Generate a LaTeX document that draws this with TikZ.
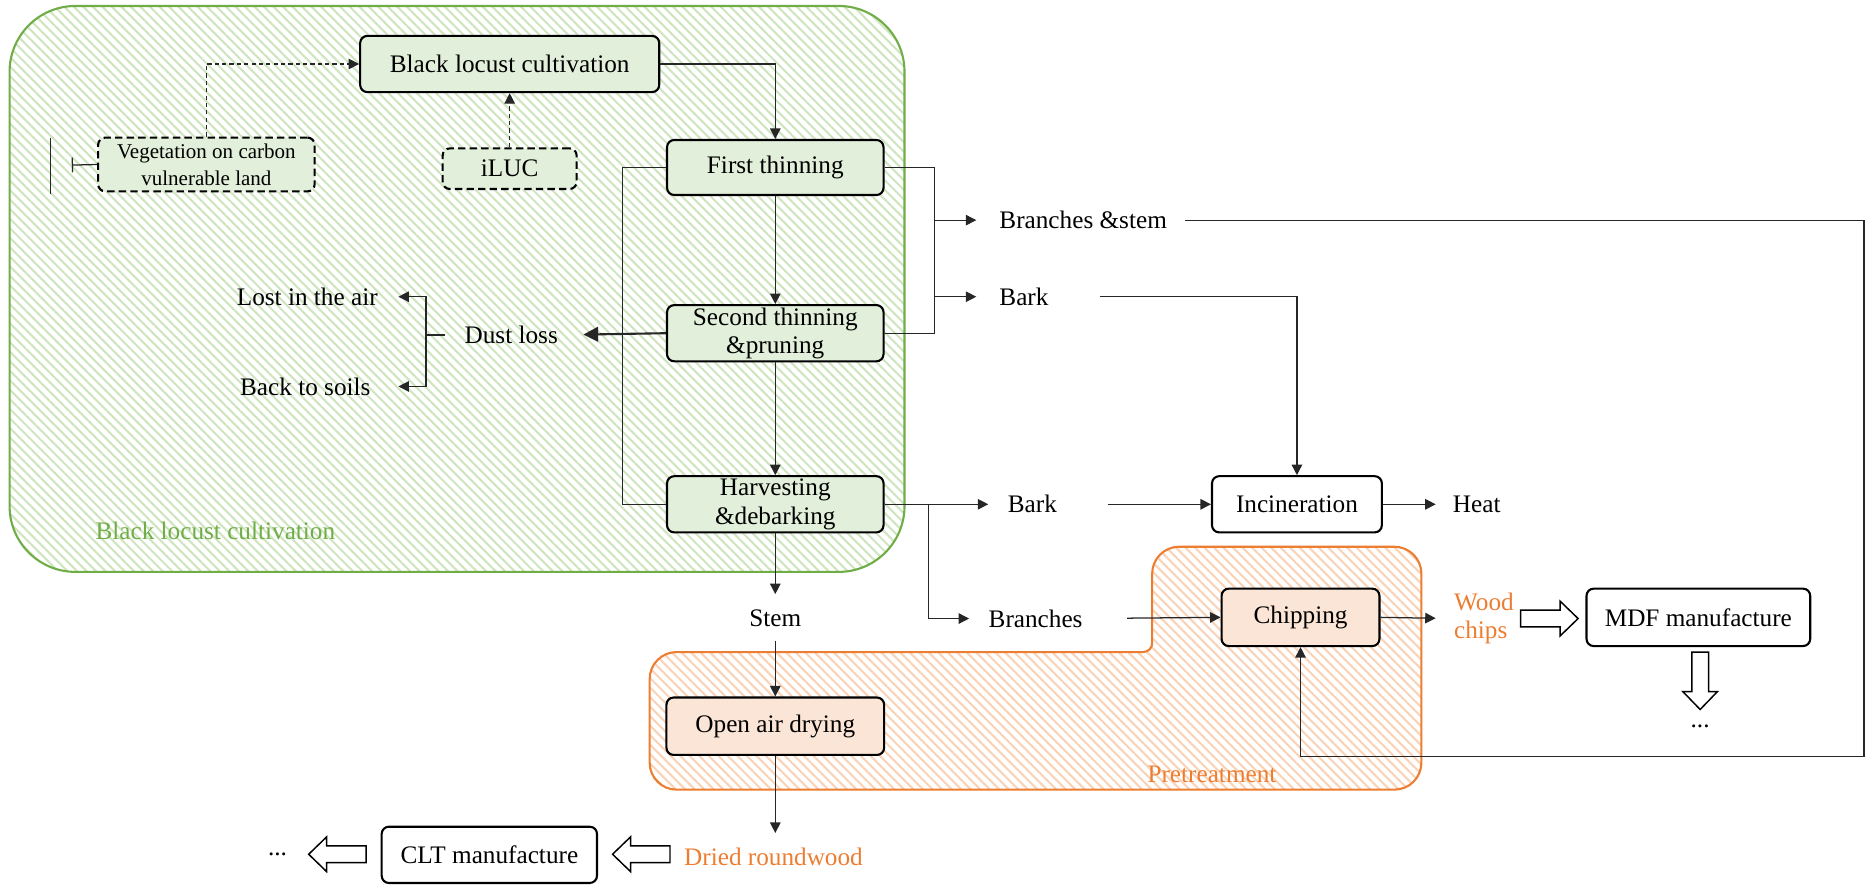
\documentclass[tikz,border=0pt]{standalone}
\usepackage{fontspec}
\setmainfont{Liberation Serif}
\usetikzlibrary{arrows.meta,patterns.meta}
\definecolor{gfill}{HTML}{E2EFDA}
\definecolor{ofill}{HTML}{FBE5D6}
\definecolor{gline}{HTML}{70AD47}
\definecolor{oline}{HTML}{ED7D31}
\definecolor{ghatch}{HTML}{CFE5C0}
\definecolor{ohatch}{HTML}{F9D3B8}
\begin{document}
\begin{tikzpicture}[x=0.02cm,y=-0.02cm,
  every node/.style={font=\fontsize{12}{13.5}\selectfont},
  box/.style={draw=black, line width=1pt, rounded corners=0.12cm, align=center, inner sep=0pt},
  gbox/.style={box, fill=gfill},
  obox/.style={box, fill=ofill},
  wbox/.style={box, fill=white},
  dbox/.style={box, fill=gfill, dash pattern=on 3.5pt off 2pt},
  lbl/.style={inner sep=0pt},
  con/.style={line width=0.6pt, draw=black!85},
  arr/.style={con, -{Triangle[length=5pt,width=5pt]}},
  region/.style={line width=1pt, rounded corners=1.1cm},
  pics/barrow/.style={code={
    \draw[line width=0.7pt, fill=white] (-24,-7) -- (9,-7) -- (9,-14.5) -- (24,0) -- (9,14.5) -- (9,7) -- (-24,7) -- cycle;}}
]
\useasboundingbox (0,0) rectangle (1568,739);

% regions
\draw[region, draw=gline, pattern={Lines[angle=-45,distance=3.2pt,line width=1pt]}, pattern color=ghatch]
  (8,5) rectangle (756,478);
\draw[line width=1pt, draw=oline, pattern={Lines[angle=-45,distance=3.2pt,line width=1pt]}, pattern color=ohatch]
  (800,660) [rounded corners=0.45cm] -- (543,660) -- (543,545) [rounded corners=0.15cm] -- (963,545) [rounded corners=0.45cm] -- (963,457) -- (1188,457) -- (1188,660) -- cycle;
\node[text=gline] (glabel) at (180,444) {Black locust cultivation};
\node[text=oline] (olabel) at (1013,647) {Pretreatment};

% boxes
\node[gbox, minimum width=5cm, minimum height=0.94cm] (blc) at (426,53.5) {Black locust cultivation};
\node[gbox, minimum width=3.62cm, minimum height=0.92cm] (ft) at (648,140) {First thinning};
\node[gbox, minimum width=3.62cm, minimum height=0.94cm] (st) at (648,278.5) {Second thinning\\\&pruning};
\node[gbox, minimum width=3.62cm, minimum height=0.94cm] (hd) at (648,421.5) {Harvesting\\\&debarking};
\node[dbox, minimum width=3.62cm, minimum height=0.9cm, font=\fontsize{10}{13}\selectfont] (veg) at (172.5,137.5) {Vegetation on carbon\\vulnerable land};
\node[dbox, minimum width=2.24cm, minimum height=0.68cm] (iluc) at (426,141) {iLUC};
\node[wbox, minimum width=2.84cm, minimum height=0.94cm] (inc) at (1084,421.5) {Incineration};
\node[obox, minimum width=2.64cm, minimum height=0.96cm] (chip) at (1087,516) {Chipping};
\node[wbox, minimum width=3.74cm, minimum height=0.96cm] (mdf) at (1419.5,516) {MDF manufacture};
\node[obox, minimum width=3.64cm, minimum height=0.96cm] (oad) at (648,607) {Open air drying};
\node[wbox, minimum width=3.6cm, minimum height=0.94cm] (clt) at (409,714.5) {CLT manufacture};

% text labels
\node[lbl, anchor=east] (lost) at (316,248) {Lost in the air};
\node[lbl, anchor=west] (dust) at (388,280) {Dust loss};
\node[lbl, anchor=east] (soils) at (310,323) {Back to soils};
\node[lbl, anchor=west] (bs) at (835,184) {Branches \&stem};
\node[lbl, anchor=west] (bark1) at (835,248) {Bark};
\node[lbl, anchor=west] (bark2) at (842,421.5) {Bark};
\node[lbl, anchor=west] (heat) at (1214,421.5) {Heat};
\node[lbl] (stem) at (648,517) {Stem};
\node[lbl, anchor=west] (br) at (826,517) {Branches};
\node[lbl, anchor=west, align=left, text=oline] (wood) at (1215,517) {Wood\\chips};
\node[lbl] (dots1) at (1421,607) {...};
\node[lbl, text=oline] (dried) at (646.5,716) {Dried roundwood};
\node[lbl] (dots2) at (232,714) {...};

% block arrows
\pic at (1295,517) {barrow};
\pic[rotate=-90] at (1421,569) {barrow};
\pic[rotate=180] at (536,714) {barrow};
\pic[rotate=180] at (282,714) {barrow};

% coordinates
\coordinate (vbar) at (60,138);
\coordinate (vl1) at (42,115);
\coordinate (vl2) at (42,162);
\coordinate (lt) at (520,140);
\coordinate (ds) at (356,280);
\coordinate (rt) at (781,140);
\coordinate (rc1) at (1558,184);
\coordinate (rc2) at (1558,632);
\coordinate (bj) at (776,421.5);

% connectors
\draw[arr] (blc.east) -| (ft.north);
\draw[arr] (ft.south) -- (st.north);
\draw[arr] (st.south) -- (hd.north);
\draw[arr, shorten >=13*0.02cm] (hd.south) -- (stem.north);
\draw[arr, shorten <=11*0.02cm] (stem.south) -- (oad.north);
\draw[arr, shorten >=12*0.02cm] (oad.south) -- (oad.south |- dried.north);
\draw[arr, dash pattern=on 2pt off 1.5pt] (veg.north) |- (blc.west);
\draw[arr, dash pattern=on 2pt off 1.5pt] (iluc.north) -- (blc.south);
\draw[con, {Bar[width=7pt]}-] (vbar) -- (veg.west);
\draw[con] (vl1) -- (vl2);
\draw[con] (ft.west) -- (lt) |- (hd.west);
\draw[arr, line width=1pt, -{Triangle[length=7pt,width=7pt]}, shorten >=21*0.02cm] (st.west) -- (dust.east);
\draw[con, shorten <=16*0.02cm] (dust.west) -- (ds);
\draw[arr, shorten >=17*0.02cm] (ds) |- (lost.east);
\draw[arr, shorten >=23*0.02cm] (ds) |- (soils.east);
\draw[con] (ft.east) -- (rt) |- (st.east);
\draw[arr, shorten >=19*0.02cm] (rt |- bs.west) -- (bs.west);
\draw[arr, shorten >=19*0.02cm] (rt |- bark1.west) -- (bark1.west);
\draw[arr, shorten <=15*0.02cm] (bs.east) -- (rc1) -- (rc2) -| (chip.south);
\draw[arr, shorten <=43*0.02cm] (bark1.east) -| (inc.north);
\draw[arr, shorten >=16*0.02cm] (hd.east) -- (bark2.west);
\draw[arr, shorten >=16*0.02cm] (bj) |- (br.west);
\draw[arr, shorten <=42*0.02cm] (bark2.east) -- (inc.west);
\draw[arr, shorten >=14*0.02cm] (inc.east) -- (heat.west);
\draw[arr, shorten <=37*0.02cm] (br.east) -- (chip.west);
\draw[arr, shorten >=15*0.02cm] (chip.east) -- (wood.west);
\end{tikzpicture}
\end{document}
